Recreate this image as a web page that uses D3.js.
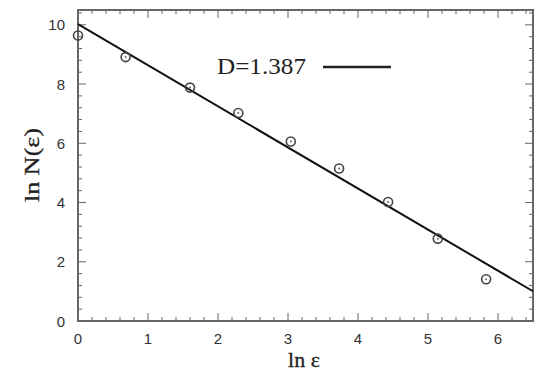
<!doctype html>
<html>
<head>
<meta charset="utf-8"/>
<title>ln N vs ln eps</title>
<script src="https://d3js.org/d3.v7.min.js"></script>
<style>
 body { margin: 0; background: #fff; }
</style>
</head>
<body>
<script>
// measured points (ln eps, ln N)
var lnEps = [0, 0.68, 1.6, 2.29, 3.04, 3.73, 4.43, 5.14, 5.83];
var lnN   = [9.64, 8.91, 7.88, 7.02, 6.06, 5.15, 4.02, 2.78, 1.41];
// fitted line
var fitX = [0, 6.5];
var fitY = [10.02, 10.02 - 1.387 * 6.5];
var xTicks = [0, 1, 2, 3, 4, 5, 6];
var yTicks = [0, 2, 4, 6, 8, 10];
var legendText = "D=1.387";

var W = 547, H = 378;
// plot box (note: "top" is a reserved window prop, so p*)
var pLeft = 78, pRight = 533, pTop = 10, pBottom = 321;

var svg = d3.select("body").append("svg")
    .attr("width", W).attr("height", H);

var x = d3.scaleLinear().domain([0, 6.5]).range([pLeft, pRight]);
var y = d3.scaleLinear().domain([0, 10.5]).range([pBottom, pTop]);

var axisCol = "#666";

// minor/major ticks, inward on all four sides
var xMinor = d3.range(0, 6.5001, 0.2);
var yMinor = d3.range(0, 10.5001, 0.4);

function xTickLen(v) { return Math.abs(v - Math.round(v)) < 1e-6 ? 8 : 4; }
function yTickLen(v) { return Math.abs(v / 2 - Math.round(v / 2)) < 1e-6 ? 8 : 4; }

var g = svg.append("g").attr("stroke", axisCol).attr("stroke-width", 1);
xMinor.forEach(function(v) {
  var L = xTickLen(v);
  g.append("line").attr("x1", x(v)).attr("x2", x(v)).attr("y1", pBottom).attr("y2", pBottom - L);
  g.append("line").attr("x1", x(v)).attr("x2", x(v)).attr("y1", pTop).attr("y2", pTop + L);
});
yMinor.forEach(function(v) {
  var L = yTickLen(v);
  g.append("line").attr("y1", y(v)).attr("y2", y(v)).attr("x1", pLeft).attr("x2", pLeft + L);
  g.append("line").attr("y1", y(v)).attr("y2", y(v)).attr("x1", pRight).attr("x2", pRight - L);
});

svg.append("rect")
    .attr("x", pLeft).attr("y", pTop)
    .attr("width", pRight - pLeft).attr("height", pBottom - pTop)
    .attr("fill", "none").attr("stroke", axisCol).attr("stroke-width", 2);

// tick labels
svg.selectAll(".xt").data(xTicks).enter().append("text")
    .attr("x", function(d) { return x(d); })
    .attr("y", 344)
    .attr("text-anchor", "middle")
    .attr("font-family", "Liberation Sans, Arial, sans-serif")
    .attr("font-size", 15)
    .attr("fill", "#333")
    .text(function(d) { return d; });

svg.selectAll(".yt").data(yTicks).enter().append("text")
    .attr("x", 65)
    .attr("y", function(d) { return y(d) + 5.5; })
    .attr("text-anchor", "end")
    .attr("font-family", "Liberation Sans, Arial, sans-serif")
    .attr("font-size", 15)
    .attr("fill", "#333")
    .text(function(d) { return d; });

// axis titles
svg.append("text")
    .attr("x", 304).attr("y", 367)
    .attr("text-anchor", "middle")
    .attr("font-family", "Liberation Serif, Times New Roman, serif")
    .attr("font-size", 22)
    .attr("fill", "#222")
    .attr("stroke", "#222").attr("stroke-width", 0.3)
    .text("ln ε");

svg.append("text")
    .attr("transform", "translate(39,165) rotate(-90)")
    .attr("text-anchor", "middle")
    .attr("font-family", "Liberation Serif, Times New Roman, serif")
    .attr("font-size", 22)
    .attr("textLength", 74)
    .attr("lengthAdjust", "spacingAndGlyphs")
    .attr("fill", "#222")
    .attr("stroke", "#222").attr("stroke-width", 0.3)
    .text("ln N(ε)");

// fit line
var line = d3.line().x(function(d) { return x(d[0]); }).y(function(d) { return y(d[1]); });
svg.append("path")
    .datum(d3.zip(fitX, fitY))
    .attr("d", line)
    .attr("fill", "none")
    .attr("stroke", "#111")
    .attr("stroke-width", 2);

// points
var pts = d3.zip(lnEps, lnN);
svg.selectAll(".pt").data(pts).enter().append("circle")
    .attr("cx", function(d) { return x(d[0]); })
    .attr("cy", function(d) { return y(d[1]); })
    .attr("r", 4.5)
    .attr("fill", "none")
    .attr("stroke", "#444")
    .attr("stroke-width", 1.6);
svg.selectAll(".pd").data(pts).enter().append("circle")
    .attr("cx", function(d) { return x(d[0]); })
    .attr("cy", function(d) { return y(d[1]); })
    .attr("r", 1)
    .attr("fill", "#666");

// legend
svg.append("text")
    .attr("x", 217).attr("y", 74)
    .attr("font-family", "Liberation Serif, Times New Roman, serif")
    .attr("font-size", 23)
    .attr("textLength", 89)
    .attr("lengthAdjust", "spacingAndGlyphs")
    .attr("fill", "#222")
    .text(legendText);
svg.append("line")
    .attr("x1", 323).attr("x2", 391)
    .attr("y1", 67).attr("y2", 67)
    .attr("stroke", "#222").attr("stroke-width", 2.5);
</script>
</body>
</html>
